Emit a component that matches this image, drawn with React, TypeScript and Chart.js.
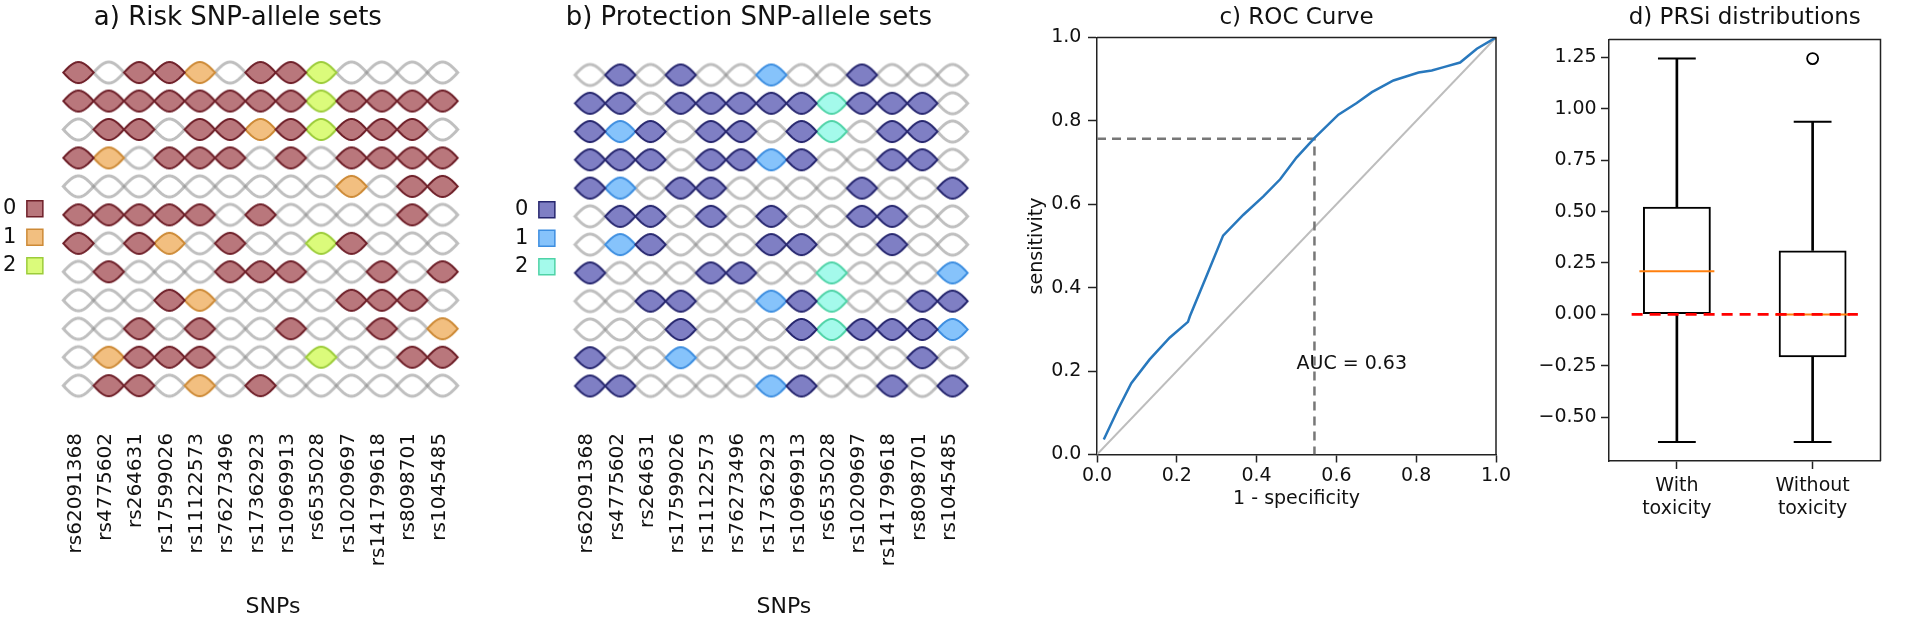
import React, { useEffect, useRef } from 'react';
import { Chart, registerables } from 'chart.js';

Chart.register(...registerables);
Chart.defaults.font.family = "'DejaVu Sans', sans-serif";
Chart.defaults.color = '#111';

// ---------------- data ----------------
const SNP_LABELS = [
  'rs62091368', 'rs4775602', 'rs264631', 'rs17599026', 'rs11122573', 'rs76273496', 'rs17362923',
  'rs10969913', 'rs6535028', 'rs10209697', 'rs141799618', 'rs8098701', 'rs1045485',
];
const ALLELE_LEVELS = ['0', '1', '2'];

// -1 = SNP not part of the set, otherwise allele code 0 / 1 / 2
const RISK_SETS: number[][] = [
  [0, -1, 0, 0, 1, -1, 0, 0, 2, -1, -1, -1, -1],
  [0, 0, 0, 0, 0, 0, 0, 0, 2, 0, 0, 0, 0],
  [-1, 0, 0, -1, 0, 0, 1, 0, 2, 0, 0, 0, -1],
  [0, 1, -1, 0, 0, 0, -1, 0, -1, 0, 0, 0, 0],
  [-1, -1, -1, -1, -1, -1, -1, -1, -1, 1, -1, 0, 0],
  [0, 0, 0, 0, 0, -1, 0, -1, -1, -1, -1, 0, -1],
  [0, -1, 0, 1, -1, 0, -1, -1, 2, 0, -1, -1, -1],
  [-1, 0, -1, -1, -1, 0, 0, 0, -1, -1, 0, -1, 0],
  [-1, -1, -1, 0, 1, -1, -1, -1, -1, 0, 0, 0, -1],
  [-1, -1, 0, -1, 0, -1, -1, 0, -1, -1, 0, -1, 1],
  [-1, 1, 0, 0, 0, -1, -1, -1, 2, -1, -1, 0, 0],
  [-1, 0, 0, -1, 1, -1, 0, -1, -1, -1, -1, -1, -1],
];
const PROTECTION_SETS: number[][] = [
  [-1, 0, -1, 0, -1, -1, 1, -1, -1, 0, -1, -1, -1],
  [0, 0, -1, 0, 0, 0, 0, 0, 2, 0, 0, 0, -1],
  [0, 1, 0, -1, 0, 0, -1, 0, 2, -1, 0, 0, -1],
  [0, 0, 0, -1, 0, 0, 1, 0, -1, -1, 0, 0, -1],
  [0, 1, -1, 0, 0, -1, -1, -1, -1, 0, -1, -1, 0],
  [-1, 0, 0, -1, 0, -1, 0, -1, -1, 0, 0, -1, -1],
  [-1, 1, 0, -1, -1, -1, 0, 0, -1, -1, 0, -1, -1],
  [0, -1, -1, -1, 0, 0, -1, -1, 2, -1, -1, -1, 1],
  [-1, -1, 0, 0, -1, -1, 1, 0, 2, -1, -1, 0, 0],
  [-1, -1, -1, 0, -1, -1, -1, 0, 2, 0, 0, 0, 1],
  [0, -1, -1, 1, -1, -1, -1, -1, -1, -1, -1, 0, -1],
  [0, 0, -1, -1, -1, -1, 1, 0, -1, -1, 0, -1, 0],
];

const ROC_FPR = [0.017, 0.053, 0.086, 0.132, 0.182, 0.228, 0.233, 0.274, 0.316, 0.367, 0.417, 0.459, 0.5, 0.546, 0.605, 0.651, 0.689, 0.743, 0.806, 0.839, 0.869, 0.91, 0.952, 1.0];
const ROC_TPR = [0.036, 0.109, 0.171, 0.228, 0.28, 0.318, 0.332, 0.427, 0.525, 0.575, 0.619, 0.66, 0.712, 0.76, 0.815, 0.843, 0.869, 0.897, 0.916, 0.921, 0.929, 0.94, 0.973, 1.0];
const CHANCE_X = [0, 1];
const CHANCE_Y = [0, 1];
const OPT_FPR = 0.545;
const OPT_TPR = 0.757;
const AUC_TEXT = 'AUC = 0.63';
const AUC_POS = [0.5, 0.217];
const ROC_TICKS = [0, 0.2, 0.4, 0.6, 0.8, 1.0];

const GROUPS = [['With', 'toxicity'], ['Without', 'toxicity']];
const WHISKER_LOW = [-0.62, -0.62];
const Q1 = [0.0, -0.208];
const MEDIAN = [0.21, 0.0];
const Q3 = [0.523, 0.311];
const WHISKER_HIGH = [1.245, 0.937];
const OUTLIERS: (number | null)[] = [null, 1.244];
const REF_LINE = 0;

// ---------------- styles ----------------
const RISK_FILL = ['#b9777c', '#f2bf80', '#dbfb7b'];
const RISK_STROKE = ['#6e1f28', '#cd8a36', '#9ccc3a'];
const PROT_FILL = ['#7f7fc4', '#86c3fb', '#a4faeb'];
const PROT_STROKE = ['#26266e', '#3d8ee0', '#4fd3a7'];
const EMPTY_STROKE = 'rgba(128,128,128,0.5)';
const LENS_A = 10.5;

function lensImage(w: number, a: number, fill: string | null, stroke: string, lw: number) {
  const m = lw + 3;
  const c = document.createElement('canvas');
  c.width = Math.ceil(w + 2 * m);
  c.height = Math.ceil(2 * a + 2 * m);
  const ctx = c.getContext('2d')!;
  const cx = c.width / 2;
  const cy = c.height / 2;
  const N = 40;
  ctx.beginPath();
  for (let i = 0; i <= N; i++) {
    const t = i / N;
    const x = cx - w / 2 + t * w;
    const y = cy - a * Math.sin(Math.PI * t);
    if (i === 0) ctx.moveTo(x, y); else ctx.lineTo(x, y);
  }
  for (let i = N - 1; i >= 0; i--) {
    const t = i / N;
    ctx.lineTo(cx - w / 2 + t * w, cy + a * Math.sin(Math.PI * t));
  }
  ctx.closePath();
  if (fill) { ctx.fillStyle = fill; ctx.fill(); }
  ctx.lineWidth = lw;
  ctx.strokeStyle = stroke;
  ctx.stroke();
  return c;
}

type GridSpec = {
  matrix: number[][]; fills: string[]; strokes: string[]; title: string; cellW: number; xMax: number;
  titlePadTop: number; titlePadBottom: number; legendTitleH: number; yAxisW: number; padRight: number;
};

function gridConfig(s: GridSpec): any {
  const datasets: any[] = ALLELE_LEVELS.map((lvl, k) => {
    const pts: any[] = [];
    s.matrix.forEach((row, r) => row.forEach((v, c) => { if (v === k) pts.push({ x: c, y: r }); }));
    return {
      label: lvl, data: pts, backgroundColor: s.fills[k], borderColor: s.strokes[k], borderWidth: 1.5,
      pointStyle: lensImage(s.cellW, LENS_A, s.fills[k], s.strokes[k], 2), pointRadius: 6, clip: false,
    };
  });
  const empty: any[] = [];
  s.matrix.forEach((row, r) => row.forEach((v, c) => { if (v === -1) empty.push({ x: c, y: r }); }));
  datasets.push({
    label: 'none', data: empty, backgroundColor: 'rgba(0,0,0,0)', borderColor: 'rgba(0,0,0,0)',
    pointStyle: lensImage(s.cellW, LENS_A, null, EMPTY_STROKE, 3), pointRadius: 6, clip: false,
  });
  return {
    type: 'scatter',
    data: { datasets },
    options: {
      responsive: false, animation: false, devicePixelRatio: 1, events: [],
      layout: { padding: { left: 0, right: s.padRight, top: 0, bottom: 0 } },
      plugins: {
        tooltip: { enabled: false },
        title: {
          display: true, text: s.title, fullSize: true, color: '#111',
          font: { size: 26, weight: 'normal' }, padding: { top: s.titlePadTop, bottom: s.titlePadBottom },
        },
        legend: {
          position: 'left', align: 'start', rtl: true,
          title: { display: true, text: ' ', font: { size: 10 }, padding: { top: s.legendTitleH - 12, bottom: 0 } },
          labels: {
            boxWidth: 16, boxHeight: 16, padding: 7.5, font: { size: 21 }, color: '#111',
            filter: (item: any) => item.datasetIndex < 3,
          },
        },
      },
      scales: {
        x: {
          type: 'linear', min: -0.5, max: s.xMax,
          afterBuildTicks: (sc: any) => { sc.ticks = SNP_LABELS.map((_, i) => ({ value: i })); },
          grid: { display: false, drawTicks: false }, border: { display: false },
          ticks: {
            autoSkip: false, minRotation: 90, maxRotation: 90, padding: 3, labelOffset: -3, font: { size: 20 }, color: '#111',
            callback: (v: any) => SNP_LABELS[Math.round(Number(v))] ?? '',
          },
          title: { display: true, text: 'SNPs', font: { size: 22 }, color: '#111', padding: { top: 0, bottom: 0 } },
          afterFit: (sc: any) => { sc.height = 190; },
        },
        y: {
          type: 'linear', min: -0.5, max: 12.557, reverse: true,
          grid: { display: false, drawTicks: false }, border: { display: false }, ticks: { display: false },
          afterFit: (sc: any) => { sc.width = s.yAxisW; },
        },
      },
    },
  };
}

const framePlugin = {
  id: 'frame',
  afterDatasetsDraw(chart: any) {
    const { ctx, chartArea: a } = chart;
    ctx.save();
    ctx.strokeStyle = '#222';
    ctx.lineWidth = 1.5;
    ctx.beginPath();
    ctx.moveTo(a.left, a.top);
    ctx.lineTo(a.right, a.top);
    ctx.lineTo(a.right, a.bottom);
    ctx.stroke();
    ctx.restore();
  },
};

function rocConfig(): any {
  const aucPlugin = {
    id: 'auc',
    afterDatasetsDraw(chart: any) {
      const { ctx } = chart;
      const x = chart.scales.x.getPixelForValue(AUC_POS[0]);
      const y = chart.scales.y.getPixelForValue(AUC_POS[1]);
      ctx.save();
      ctx.font = "19px 'DejaVu Sans'";
      ctx.fillStyle = '#111';
      ctx.textAlign = 'left';
      ctx.textBaseline = 'middle';
      ctx.fillText(AUC_TEXT, x, y);
      ctx.restore();
    },
  };
  const axisCommon = {
    type: 'linear', min: 0, max: 1,
    border: { color: '#222', width: 1.5 },
  };
  return {
    type: 'scatter',
    data: {
      datasets: [
        { label: 'ROC', data: ROC_FPR.map((x, i) => ({ x, y: ROC_TPR[i] })), showLine: true, borderColor: '#2878bd', borderWidth: 2.5, pointRadius: 0 },
        { label: 'cut', data: [{ x: 0, y: OPT_TPR }, { x: OPT_FPR, y: OPT_TPR }, { x: OPT_FPR, y: 0 }], showLine: true, borderColor: '#777', borderWidth: 2.5, borderDash: [9, 6], pointRadius: 0 },
        { label: 'chance', data: CHANCE_X.map((x, i) => ({ x, y: CHANCE_Y[i] })), showLine: true, borderColor: '#bdbdbd', borderWidth: 2, pointRadius: 0 },
      ],
    },
    options: {
      responsive: false, animation: false, devicePixelRatio: 1, events: [],
      layout: { padding: { left: 0, right: 20, top: 0, bottom: 0 } },
      plugins: {
        tooltip: { enabled: false }, legend: { display: false },
        title: { display: true, text: 'c) ROC Curve', fullSize: false, color: '#111', font: { size: 23, weight: 'normal' }, padding: { top: 4, bottom: 5.9 } },
      },
      scales: {
        x: {
          ...axisCommon,
          afterBuildTicks: (sc: any) => { sc.ticks = ROC_TICKS.map((v) => ({ value: v })); },
          ticks: { font: { size: 19 }, color: '#111', padding: 2.1, callback: (v: any) => Number(v).toFixed(1) },
          grid: { drawOnChartArea: false, drawTicks: true, tickLength: 8, tickColor: '#222', tickWidth: 1.5 },
          title: { display: true, text: '1 - specificity', font: { size: 19 }, color: '#111', padding: { top: 0, bottom: 109.6 } },
          afterFit: (sc: any) => { sc.height = 165.5; },
        },
        y: {
          ...axisCommon,
          afterBuildTicks: (sc: any) => { sc.ticks = ROC_TICKS.map((v) => ({ value: v })); },
          ticks: { font: { size: 19 }, color: '#111', padding: 6.6, callback: (v: any) => Number(v).toFixed(1) },
          grid: { drawOnChartArea: false, drawTicks: true, tickLength: 9, tickColor: '#222', tickWidth: 1.5 },
          title: { display: true, text: 'sensitivity', font: { size: 19 }, color: '#111', padding: { top: 25.3, bottom: 0 } },
          afterFit: (sc: any) => { sc.width = 97; },
        },
      },
    },
    plugins: [framePlugin, aucPlugin],
  };
}

function boxConfig(): any {
  const capStyle = { type: 'line', showLine: false, pointStyle: 'line', pointRadius: 18.9, pointBorderWidth: 2, pointBorderColor: '#000', pointBackgroundColor: '#000' };
  return {
    type: 'bar',
    data: {
      labels: GROUPS,
      datasets: [
        { type: 'line', label: 'ref', xAxisID: 'xl', data: [{ x: 0, y: REF_LINE }, { x: 1, y: REF_LINE }], borderColor: '#ff0000', borderWidth: 2.8, borderDash: [11, 7], pointRadius: 0 },
        { type: 'line', label: 'median', data: MEDIAN, showLine: false, pointStyle: 'line', pointRadius: 37.5, pointBorderWidth: 2, pointBorderColor: '#ff7f0e', pointBackgroundColor: '#ff7f0e' },
        { type: 'line', label: 'outliers', data: OUTLIERS, showLine: false, pointStyle: 'circle', pointRadius: 5.5, pointBorderWidth: 1.8, pointBorderColor: '#000', pointBackgroundColor: 'rgba(0,0,0,0)' },
        { ...capStyle, label: 'capHigh', data: WHISKER_HIGH },
        { ...capStyle, label: 'capLow', data: WHISKER_LOW },
        { label: 'box', data: Q1.map((q, i) => [q, Q3[i]]), grouped: false, barPercentage: 0.5, categoryPercentage: 1, backgroundColor: 'rgba(0,0,0,0)', borderColor: '#000', borderWidth: 2, borderSkipped: false },
        { label: 'whiskerHigh', data: Q3.map((q, i) => [q, WHISKER_HIGH[i]]), grouped: false, barThickness: 2, backgroundColor: '#000', borderWidth: 0 },
        { label: 'whiskerLow', data: Q1.map((q, i) => [WHISKER_LOW[i], q]), grouped: false, barThickness: 2, backgroundColor: '#000', borderWidth: 0 },
      ],
    },
    options: {
      responsive: false, animation: false, devicePixelRatio: 1, events: [],
      layout: { padding: { left: 0, right: 8, top: 0, bottom: 0 } },
      plugins: {
        tooltip: { enabled: false }, legend: { display: false },
        title: { display: true, text: 'd) PRSi distributions', fullSize: false, color: '#111', font: { size: 23, weight: 'normal' }, padding: { top: 4, bottom: 7.9 } },
      },
      scales: {
        x: {
          type: 'category', offset: true,
          grid: { offset: false, drawOnChartArea: false, drawTicks: true, tickLength: 8, tickColor: '#222', tickWidth: 1.5 },
          border: { color: '#222', width: 1.5 },
          ticks: { font: { size: 19 }, color: '#111', padding: 6 },
          afterFit: (sc: any) => { sc.height = 159; },
        },
        xl: { type: 'linear', min: 0, max: 1, display: false },
        y: {
          type: 'linear', min: -0.713, max: 1.337,
          border: { color: '#222', width: 1.5 },
          grid: { drawOnChartArea: false, drawTicks: true, tickLength: 8, tickColor: '#222', tickWidth: 1.5 },
          ticks: {
            stepSize: 0.25, includeBounds: false, font: { size: 19 }, color: '#111', padding: 4.3,
            callback: (v: any) => { const n = Math.round(Number(v) * 100) / 100; return (n < 0 ? '\u2212' : '') + Math.abs(n).toFixed(2); },
          },
          afterFit: (sc: any) => { sc.width = 93; },
        },
      },
    },
    plugins: [framePlugin],
  };
}

function ChartCanvas({ left, width, make }: { left: number; width: number; make: () => any }) {
  const ref = useRef<HTMLCanvasElement>(null);
  useEffect(() => {
    const chart = new Chart(ref.current!, make());
    return () => chart.destroy();
  }, []);
  return (
    <canvas
      ref={ref}
      width={width}
      height={620}
      style={{ position: 'absolute', left, top: 0, width, height: 620 }}
    />
  );
}

export default function App() {
  return (
    <div style={{ position: 'absolute', left: 0, top: 0, width: 1920, height: 620, overflow: 'hidden', background: '#fff' }}>
      <ChartCanvas
        left={-7}
        width={528}
        make={() => gridConfig({
          matrix: RISK_SETS, fills: RISK_FILL, strokes: RISK_STROKE, title: 'a) Risk SNP-allele sets', cellW: 30.34, xMax: 13.324,
          titlePadTop: 2.7, titlePadBottom: 24.4, legendTitleH: 190.7, yAxisW: 12.94, padRight: 38.3,
        })}
      />
      <ChartCanvas
        left={505}
        width={524}
        make={() => gridConfig({
          matrix: PROTECTION_SETS, fills: PROT_FILL, strokes: PROT_STROKE, title: 'b) Protection SNP-allele sets', cellW: 30.2, xMax: 13.331,
          titlePadTop: 2.7, titlePadBottom: 26.96, legendTitleH: 191.7, yAxisW: 12.64, padRight: 36.3,
        })}
      />
      <ChartCanvas left={1000} width={516} make={rocConfig} />
      <ChartCanvas left={1516} width={404} make={boxConfig} />
    </div>
  );
}
